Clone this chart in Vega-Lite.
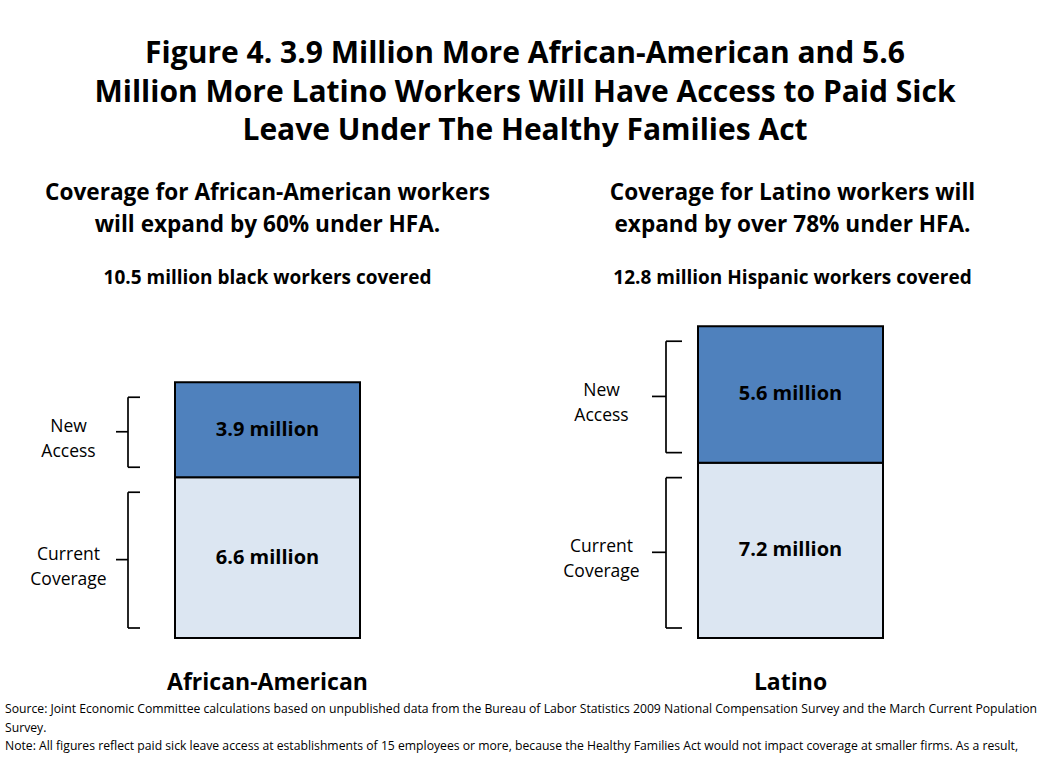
{
  "$schema": "https://vega.github.io/schema/vega-lite/v6.json",
  "padding": {"left": 0, "right": 0, "top": 39, "bottom": 0},
  "background": "white",
  "config": {"view": {"stroke": null}, "font": "Open Sans"},
  "title": {
    "text": ["Figure 4. 3.9 Million More African-American and 5.6", "Million More Latino Workers Will Have Access to Paid Sick", "Leave Under The Healthy Families Act"],
    "fontSize": 30, "fontWeight": "bold", "lineHeight": 38.5, "anchor": "middle", "offset": 36, "color": "black", "font": "Open Sans"
  },
  "spacing": 6,
  "vconcat": [
    {
      "spacing": 0,
      "hconcat": [
        {
          "width": 535, "height": 341,
          "title": {
            "text": ["Coverage for African-American workers", "will expand by 60% under HFA."],
            "subtitle": "10.5 million black workers covered",
            "fontSize": 22.6, "fontWeight": "bold", "lineHeight": 32, "subtitleFontSize": 19, "subtitleFontWeight": "bold",
            "subtitlePadding": 32, "anchor": "middle", "frame": "group", "offset": 9, "color": "black", "subtitleColor": "black",
            "font": "Open Sans", "subtitleFont": "Open Sans"
          },
          "data": {"values": [
            {"group": "African-American", "segment": "Current Coverage", "order": 1, "value": 6.6, "label": "6.6 million"},
            {"group": "African-American", "segment": "New Access", "order": 2, "value": 3.9, "label": "3.9 million"}
          ]},
          "transform": [
            {"stack": "value", "groupby": ["group"], "sort": [{"field": "order", "order": "ascending"}], "as": ["v0", "v1"]},
            {"calculate": "(datum.v0 + datum.v1) / 2", "as": "mid"}
          ],
          "encoding": {
            "x": {"field": "group", "type": "nominal", "scale": {"range": [175, 360], "paddingInner": 0, "paddingOuter": 0},
              "axis": {"title": null, "domain": false, "ticks": false, "tickSize": 0, "labelPadding": 33, "labelFontSize": 23, "labelFontWeight": "bold", "labelColor": "black", "labelAngle": 0, "labelFont": "Open Sans", "labelLimit": 0}}
          },
          "layer": [
            {"mark": {"type": "bar", "stroke": "black", "strokeWidth": 2},
             "encoding": {
               "y": {"field": "v0", "type": "quantitative", "scale": {"domain": [0, 14], "nice": false}, "axis": null},
               "y2": {"field": "v1"},
               "color": {"field": "segment", "type": "nominal", "scale": {"domain": ["Current Coverage", "New Access"], "range": ["#dce6f2", "#4f81bd"]}, "legend": null}
             }},
            {"mark": {"type": "text", "fontSize": 20, "fontWeight": "bold", "color": "black"},
             "encoding": {"y": {"field": "mid", "type": "quantitative", "scale": {"domain": [0, 14], "nice": false}, "axis": null}, "text": {"field": "label"}}},
            {"mark": {"type": "rule", "xOffset": -139.5, "yOffset": -10, "y2Offset": 15, "strokeWidth": 1.7, "color": "black"},
             "encoding": {"y": {"field": "v0", "type": "quantitative", "scale": {"domain": [0, 14], "nice": false}, "axis": null}, "y2": {"field": "v1"}}},
            {"mark": {"type": "tick", "xOffset": -133.5, "yOffset": 15, "size": 12, "thickness": 1.7, "color": "black", "opacity": 1},
             "encoding": {"y": {"field": "v1", "type": "quantitative", "scale": {"domain": [0, 14], "nice": false}, "axis": null}}},
            {"mark": {"type": "tick", "xOffset": -133.5, "yOffset": -10, "size": 12, "thickness": 1.7, "color": "black", "opacity": 1},
             "encoding": {"y": {"field": "v0", "type": "quantitative", "scale": {"domain": [0, 14], "nice": false}, "axis": null}}},
            {"mark": {"type": "tick", "xOffset": -145.5, "yOffset": 2, "size": 12, "thickness": 1.7, "color": "black", "opacity": 1},
             "encoding": {"y": {"field": "mid", "type": "quantitative", "scale": {"domain": [0, 14], "nice": false}, "axis": null}}},
            {"mark": {"type": "text", "dx": -199, "dy": -3, "fontSize": 17.5, "lineBreak": " ", "lineHeight": 25, "color": "black"},
             "encoding": {"y": {"field": "mid", "type": "quantitative", "scale": {"domain": [0, 14], "nice": false}, "axis": null}, "text": {"field": "segment"}}}
          ]
        },
        {
          "width": 515, "height": 341,
          "title": {
            "text": ["Coverage for Latino workers will", "expand by over 78% under HFA."],
            "subtitle": "12.8 million Hispanic workers covered",
            "fontSize": 22.6, "fontWeight": "bold", "lineHeight": 32, "subtitleFontSize": 19, "subtitleFontWeight": "bold",
            "subtitlePadding": 32, "anchor": "middle", "frame": "group", "offset": 9, "color": "black", "subtitleColor": "black",
            "font": "Open Sans", "subtitleFont": "Open Sans"
          },
          "data": {"values": [
            {"group": "Latino", "segment": "Current Coverage", "order": 1, "value": 7.2, "label": "7.2 million"},
            {"group": "Latino", "segment": "New Access", "order": 2, "value": 5.6, "label": "5.6 million"}
          ]},
          "transform": [
            {"stack": "value", "groupby": ["group"], "sort": [{"field": "order", "order": "ascending"}], "as": ["v0", "v1"]},
            {"calculate": "(datum.v0 + datum.v1) / 2", "as": "mid"}
          ],
          "encoding": {
            "x": {"field": "group", "type": "nominal", "scale": {"range": [163, 348], "paddingInner": 0, "paddingOuter": 0},
              "axis": {"title": null, "domain": false, "ticks": false, "tickSize": 0, "labelPadding": 33, "labelFontSize": 23, "labelFontWeight": "bold", "labelColor": "black", "labelAngle": 0, "labelFont": "Open Sans", "labelLimit": 0}}
          },
          "layer": [
            {"mark": {"type": "bar", "stroke": "black", "strokeWidth": 2},
             "encoding": {
               "y": {"field": "v0", "type": "quantitative", "scale": {"domain": [0, 14], "nice": false}, "axis": null},
               "y2": {"field": "v1"},
               "color": {"field": "segment", "type": "nominal", "scale": {"domain": ["Current Coverage", "New Access"], "range": ["#dce6f2", "#4f81bd"]}, "legend": null}
             }},
            {"mark": {"type": "text", "fontSize": 20, "fontWeight": "bold", "color": "black"},
             "encoding": {"y": {"field": "mid", "type": "quantitative", "scale": {"domain": [0, 14], "nice": false}, "axis": null}, "text": {"field": "label"}}},
            {"mark": {"type": "rule", "xOffset": -124.5, "yOffset": -10, "y2Offset": 15, "strokeWidth": 1.7, "color": "black"},
             "encoding": {"y": {"field": "v0", "type": "quantitative", "scale": {"domain": [0, 14], "nice": false}, "axis": null}, "y2": {"field": "v1"}}},
            {"mark": {"type": "tick", "xOffset": -116.5, "yOffset": 15, "size": 16, "thickness": 1.7, "color": "black", "opacity": 1},
             "encoding": {"y": {"field": "v1", "type": "quantitative", "scale": {"domain": [0, 14], "nice": false}, "axis": null}}},
            {"mark": {"type": "tick", "xOffset": -116.5, "yOffset": -10, "size": 16, "thickness": 1.7, "color": "black", "opacity": 1},
             "encoding": {"y": {"field": "v0", "type": "quantitative", "scale": {"domain": [0, 14], "nice": false}, "axis": null}}},
            {"mark": {"type": "tick", "xOffset": -131.5, "yOffset": 2, "size": 14, "thickness": 1.7, "color": "black", "opacity": 1},
             "encoding": {"y": {"field": "mid", "type": "quantitative", "scale": {"domain": [0, 14], "nice": false}, "axis": null}}},
            {"mark": {"type": "text", "dx": -189, "dy": -3, "fontSize": 17.5, "lineBreak": " ", "lineHeight": 25, "color": "black"},
             "encoding": {"y": {"field": "mid", "type": "quantitative", "scale": {"domain": [0, 14], "nice": false}, "axis": null}, "text": {"field": "segment"}}}
          ]
        }
      ]
    },
    {
      "width": 1050, "height": 55.5,
      "data": {"values": [
        {"line": 1, "note": "Source: Joint Economic Committee calculations based on unpublished data from the Bureau of Labor Statistics 2009 National Compensation Survey and the March Current Population"},
        {"line": 2, "note": "Survey."},
        {"line": 3, "note": "Note: All figures reflect paid sick leave access at establishments of 15 employees or more, because the Healthy Families Act would not impact coverage at smaller firms. As a result,"}
      ]},
      "mark": {"type": "text", "align": "left", "baseline": "middle", "fontSize": 12.2, "dx": 5, "color": "black"},
      "encoding": {
        "x": {"datum": 0, "type": "quantitative", "scale": {"domain": [0, 1]}, "axis": null},
        "y": {"field": "line", "type": "ordinal", "axis": null},
        "text": {"field": "note"}
      }
    }
  ]
}
